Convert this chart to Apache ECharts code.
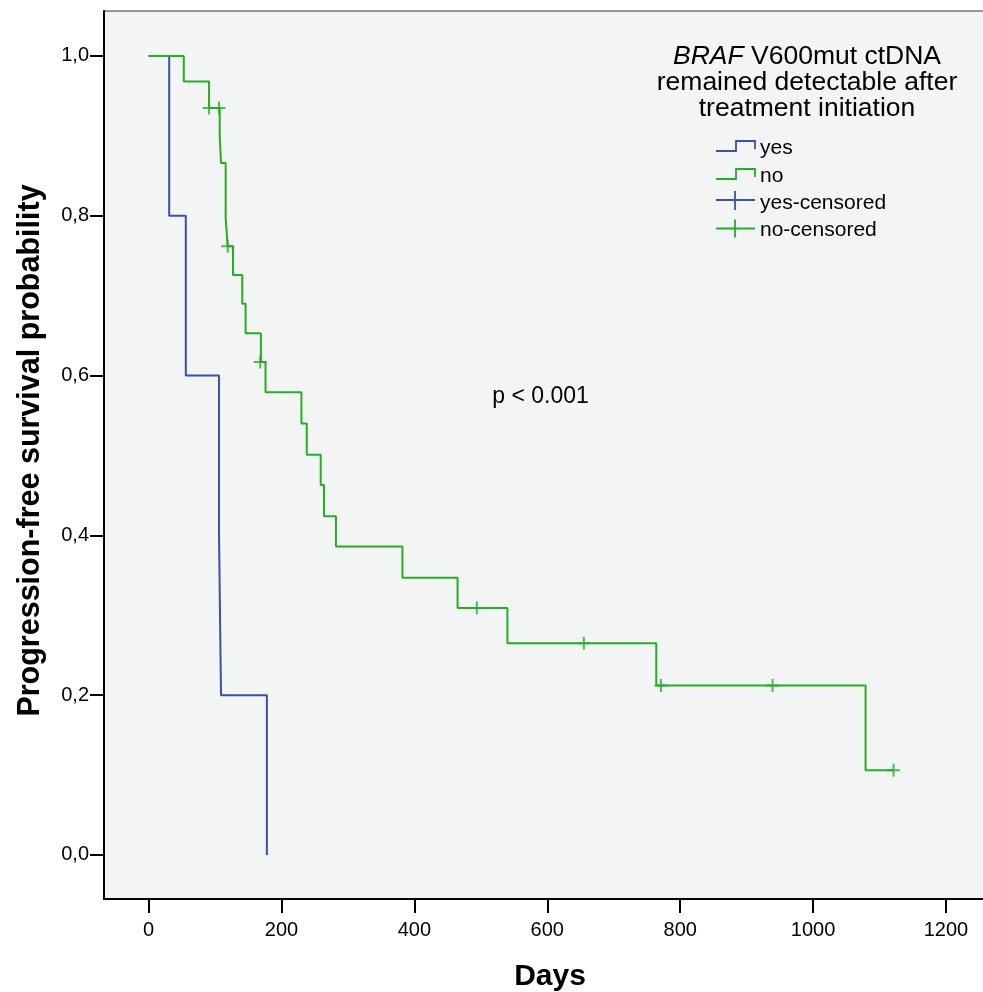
<!DOCTYPE html>
<html>
<head>
<meta charset="utf-8">
<script src="https://cdn.jsdelivr.net/npm/echarts@6/dist/echarts.min.js"></script>
<style>
html,body{margin:0;padding:0;background:#fff;}
#c{width:983px;height:992px;}
</style>
</head>
<body>
<div id="c"></div>
<script>
// ---- data ----
const xTickValues = [0, 200, 400, 600, 800, 1000, 1200];
const yTickValues = [0, 0.2, 0.4, 0.6, 0.8, 1.0];

// group "yes" (BRAF V600mut ctDNA remained detectable)
const yesDays = [0, 31, 56, 106, 109, 178];
const yesSurv = [1.0, 0.8, 0.6, 0.4, 0.2, 0.0];
const yesCensorDays = [];
const yesCensorSurv = [];

// group "no"
const noDays = [0, 53, 91, 107, 109, 116, 119, 127, 141, 146, 169, 176, 230, 238, 259, 264, 282, 382, 465, 540, 764, 1079, 1121];
const noSurv = [1.000, 0.968, 0.935, 0.901, 0.866, 0.797, 0.762, 0.726, 0.690, 0.653, 0.617, 0.579, 0.540, 0.501, 0.463, 0.424, 0.386, 0.347, 0.309, 0.265, 0.212, 0.106, 0.106];
const noCensorDays = [91, 106, 119, 168, 494, 655, 771, 939, 1121];
const noCensorSurv = [0.935, 0.935, 0.762, 0.617, 0.309, 0.265, 0.212, 0.212, 0.106];

const legendTitle = '{i|BRAF} V600mut ctDNA\nremained detectable after\ntreatment initiation';
const legendLabels = ['yes', 'no', 'yes-censored', 'no-censored'];
const pText = 'p < 0.001';

// ---- styling ----
const FONT = '"Liberation Sans", Arial, Helvetica, sans-serif';
const BLUE = '#3c4fab';
const GREEN = '#22b022';
const PLUS = 'path://M5.5,0H7.5V5.5H13V7.5H7.5V13H5.5V7.5H0V5.5H5.5Z';

const zip = (a, b) => a.map((v, i) => [v, b[i]]);

const chart = echarts.init(document.getElementById('c'), null, {renderer: 'canvas'});

const legendRows = [148.5, 176.5, 203.5, 230.5];

const graphics = [
  {
    type: 'text', x: 807, y: 82.5,
    style: {
      text: legendTitle, fill: '#000', align: 'center', verticalAlign: 'middle',
      fontSize: 26.5, fontFamily: FONT, lineHeight: 26,
      rich: { i: { fontStyle: 'italic', fontSize: 26.5, fontFamily: FONT, fill: '#000', lineHeight: 26 } }
    }
  },
  { type: 'polyline', shape: { points: [[716, 151], [736, 151], [736, 141], [755, 141], [755, 149]] },
    style: { stroke: BLUE, lineWidth: 1.8, fill: null } },
  { type: 'polyline', shape: { points: [[716, 179], [736, 179], [736, 169], [755, 169], [755, 177]] },
    style: { stroke: GREEN, lineWidth: 1.8, fill: null } },
  { type: 'line', shape: { x1: 716, y1: 200, x2: 755, y2: 200 }, style: { stroke: BLUE, lineWidth: 1.8 } },
  { type: 'line', shape: { x1: 735, y1: 191, x2: 735, y2: 210 }, style: { stroke: BLUE, lineWidth: 1.8 } },
  { type: 'line', shape: { x1: 716, y1: 228.5, x2: 755, y2: 228.5 }, style: { stroke: GREEN, lineWidth: 1.8 } },
  { type: 'line', shape: { x1: 735, y1: 219.5, x2: 735, y2: 237.5 }, style: { stroke: GREEN, lineWidth: 1.8 } },
  {
    type: 'text', x: 540.5, y: 397,
    style: { text: pText, fill: '#000', align: 'center', verticalAlign: 'middle', fontSize: 23, fontFamily: FONT }
  }
];
legendLabels.forEach((t, i) => {
  graphics.push({
    type: 'text', x: 760, y: legendRows[i],
    style: { text: t, fill: '#000', align: 'left', verticalAlign: 'middle', fontSize: 21, fontFamily: FONT }
  });
});

const option = {
  backgroundColor: '#ffffff',
  animation: false,
  grid: {
    left: 104, right: -1, top: 11, bottom: 93,
    containLabel: false, outerBoundsMode: 'none',
    show: true, backgroundColor: '#f3f4f4', borderColor: '#333', borderWidth: 1
  },
  xAxis: {
    type: 'value', min: -67.1, max: 1257.2,
    name: 'Days', nameLocation: 'middle', nameGap: 63,
    nameTextStyle: { fontFamily: FONT, fontWeight: 'bold', fontSize: 30, color: '#000', padding: [0, 0, 0, 12] },
    splitLine: { show: false },
    axisLine: { show: true, onZero: false, lineStyle: { color: '#000', width: 2 } },
    axisTick: { show: true, customValues: xTickValues, length: 14, inside: false, lineStyle: { color: '#000', width: 2 } },
    axisLabel: { customValues: xTickValues, margin: 21, fontFamily: FONT, fontSize: 20, color: '#000',
      formatter: v => String(Math.round(v)) }
  },
  yAxis: {
    type: 'value', min: -0.0551, max: 1.0563,
    name: 'Progression-free survival probability', nameLocation: 'middle', nameGap: 58, nameRotate: 90,
    nameTextStyle: { fontFamily: FONT, fontWeight: 'bold', fontSize: 30.5, color: '#000', padding: [0, 0, 0, 9] },
    splitLine: { show: false },
    axisLine: { show: true, onZero: false, lineStyle: { color: '#000', width: 2 } },
    axisTick: { show: true, customValues: yTickValues, length: 14, inside: false, lineStyle: { color: '#000', width: 2 } },
    axisLabel: { customValues: yTickValues, margin: 15, fontFamily: FONT, fontSize: 20, color: '#000',
      formatter: v => v.toFixed(1).replace('.', ',') }
  },
  series: [
    { name: 'yes', type: 'line', step: 'end', symbol: 'none', data: zip(yesDays, yesSurv),
      lineStyle: { color: BLUE, width: 2 }, itemStyle: { color: BLUE }, z: 2 },
    { name: 'no', type: 'line', step: 'end', symbol: 'none', data: zip(noDays, noSurv),
      lineStyle: { color: GREEN, width: 2 }, itemStyle: { color: GREEN }, z: 3 },
    { name: 'yes-censored', type: 'scatter', symbol: PLUS, symbolSize: 13, data: zip(yesCensorDays, yesCensorSurv),
      itemStyle: { color: BLUE }, z: 4 },
    { name: 'no-censored', type: 'scatter', symbol: PLUS, symbolSize: 13, data: zip(noCensorDays, noCensorSurv),
      itemStyle: { color: GREEN }, z: 4 }
  ],
  graphic: graphics
};
chart.setOption(option);
</script>
</body>
</html>
